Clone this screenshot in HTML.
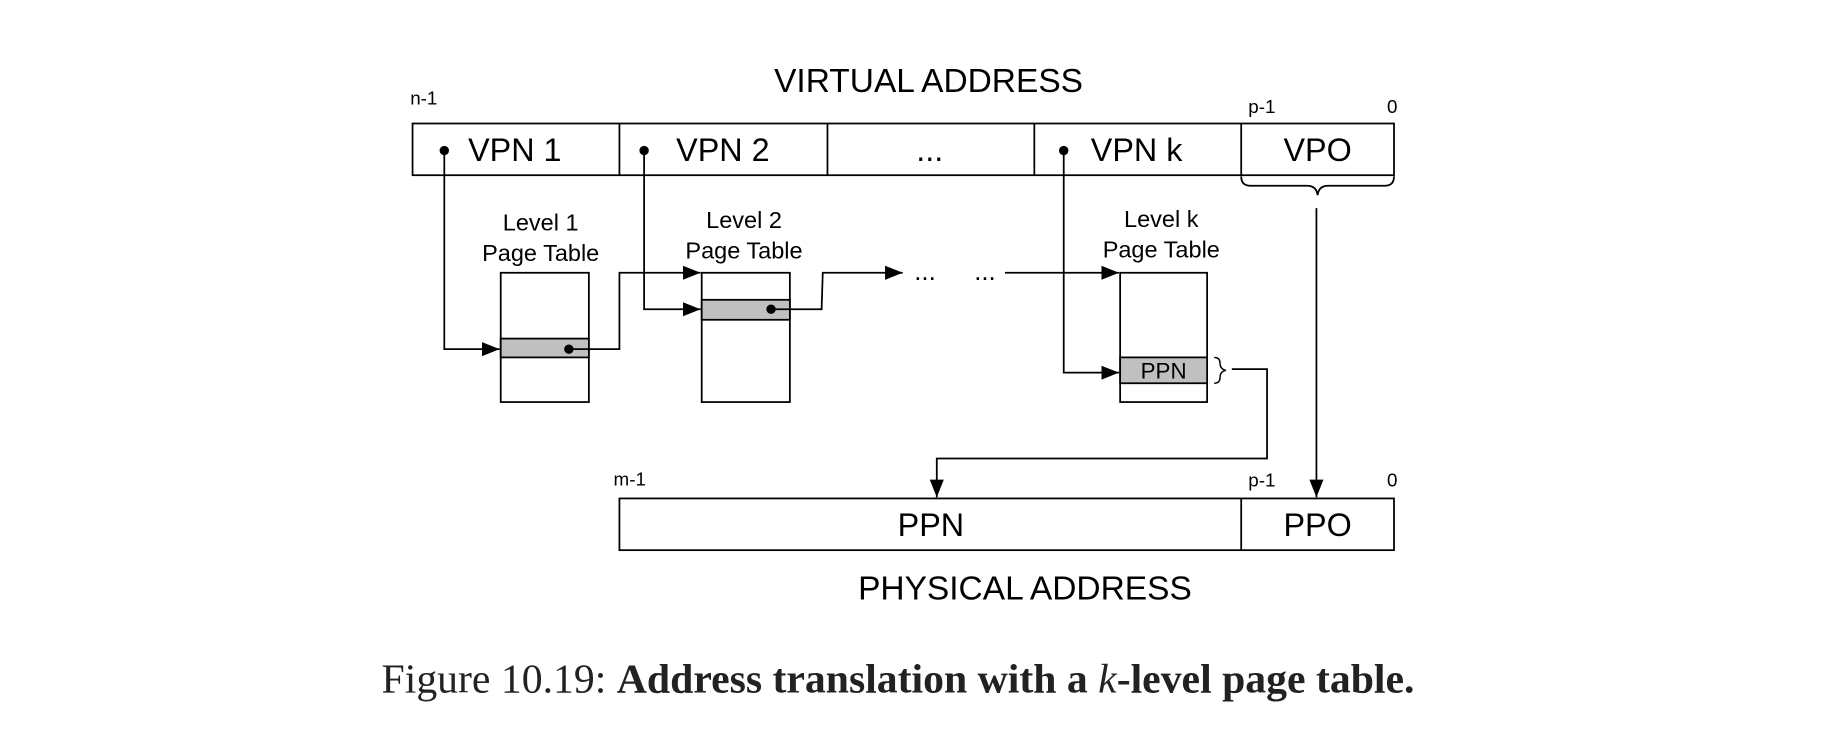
<!DOCTYPE html>
<html><head><style>html,body{margin:0;padding:0;background:#fff}svg{display:block}</style></head>
<body>
<svg width="1843" height="743" viewBox="0 0 1568 632" xmlns="http://www.w3.org/2000/svg">
<defs><marker id="b" markerWidth="16" markerHeight="12" refX="15" refY="6" orient="auto" markerUnits="userSpaceOnUse"><path d="M0,0 L15,6 L0,12 z" fill="#000"/></marker></defs>
<g fill="none" stroke="#000" stroke-width="1.5">
<rect x="351" y="105" width="835" height="44"/>
<line x1="527" y1="105" x2="527" y2="149"/><line x1="704" y1="105" x2="704" y2="149"/>
<line x1="880" y1="105" x2="880" y2="149"/><line x1="1056" y1="105" x2="1056" y2="149"/>
<path d="M1056,150 Q1056,158 1064,158 L1112,158 Q1120,158 1121,166 Q1122,158 1130,158 L1178,158 Q1186,158 1186,150"/>
<line x1="1120" y1="177" x2="1120" y2="423" marker-end="url(#b)"/>
<rect x="527" y="424" width="659" height="44"/>
<line x1="1056" y1="424" x2="1056" y2="468"/>
<rect x="426" y="232" width="75" height="110"/>
<rect x="426" y="288" width="75" height="16" fill="#c0c0c0"/>
<rect x="597" y="232" width="75" height="110"/>
<rect x="597" y="255" width="75" height="17" fill="#c0c0c0"/>
<rect x="953" y="232" width="74" height="110"/>
<rect x="953" y="304" width="74" height="22" fill="#c0c0c0"/>
<path d="M378,128 V297 H425" marker-end="url(#b)"/>
<path d="M484,297 H527 V232 H596" marker-end="url(#b)"/>
<path d="M548,128 V263 H596" marker-end="url(#b)"/>
<path d="M656,263 H699 L700,232 H768" marker-end="url(#b)"/>
<path d="M855,232 H952" marker-end="url(#b)"/>
<path d="M905,128 V317 H952" marker-end="url(#b)"/>
<path d="M1033,304 Q1038,304 1038,309 Q1038,314 1043,315 Q1038,316 1038,321 Q1038,326 1033,326" stroke-width="1.2"/>
<path d="M1048,314 H1078 V390 H797 V423" marker-end="url(#b)"/>
</g>
<g fill="#000"><circle cx="378" cy="128" r="4"/><circle cx="548" cy="128" r="4"/><circle cx="905" cy="128" r="4"/><circle cx="484" cy="297" r="4"/><circle cx="656" cy="263" r="4"/></g>
<g font-family="Liberation Sans, sans-serif" fill="#000" stroke="none">
<text x="790" y="78" font-size="28.5" text-anchor="middle">VIRTUAL ADDRESS</text>
<text x="349" y="89" font-size="16">n-1</text>
<text x="1062" y="96" font-size="16">p-1</text>
<text x="1180" y="96" font-size="16">0</text>
<text x="438" y="137" font-size="27.5" text-anchor="middle">VPN 1</text>
<text x="615" y="137" font-size="27.5" text-anchor="middle">VPN 2</text>
<text x="791" y="137" font-size="27.5" text-anchor="middle">...</text>
<text x="967" y="137" font-size="27.5" text-anchor="middle">VPN k</text>
<text x="1121" y="137" font-size="27.5" text-anchor="middle">VPO</text>
<text x="460" y="196" font-size="20" text-anchor="middle">Level 1</text>
<text x="460" y="222" font-size="20" text-anchor="middle">Page Table</text>
<text x="633" y="194" font-size="20" text-anchor="middle">Level 2</text>
<text x="633" y="220" font-size="20" text-anchor="middle">Page Table</text>
<text x="988" y="193" font-size="20" text-anchor="middle">Level k</text>
<text x="988" y="219" font-size="20" text-anchor="middle">Page Table</text>
<text x="787" y="238" font-size="22" text-anchor="middle">...</text>
<text x="838" y="238" font-size="22" text-anchor="middle">...</text>
<text x="990" y="322" font-size="19" text-anchor="middle">PPN</text>
<text x="522" y="413" font-size="16">m-1</text>
<text x="1062" y="414" font-size="16">p-1</text>
<text x="1180" y="414" font-size="16">0</text>
<text x="792" y="456" font-size="27.5" text-anchor="middle">PPN</text>
<text x="1121" y="456" font-size="27.5" text-anchor="middle">PPO</text>
<text x="872" y="510" font-size="28.5" text-anchor="middle">PHYSICAL ADDRESS</text>
</g>
<text x="764" y="589" font-family="Liberation Serif, serif" font-size="35.5" text-anchor="middle" fill="#222">Figure 10.19: <tspan font-weight="bold">Address translation with a </tspan><tspan font-style="italic">k</tspan><tspan font-weight="bold">-level page table.</tspan></text>
</svg>
</body></html>
